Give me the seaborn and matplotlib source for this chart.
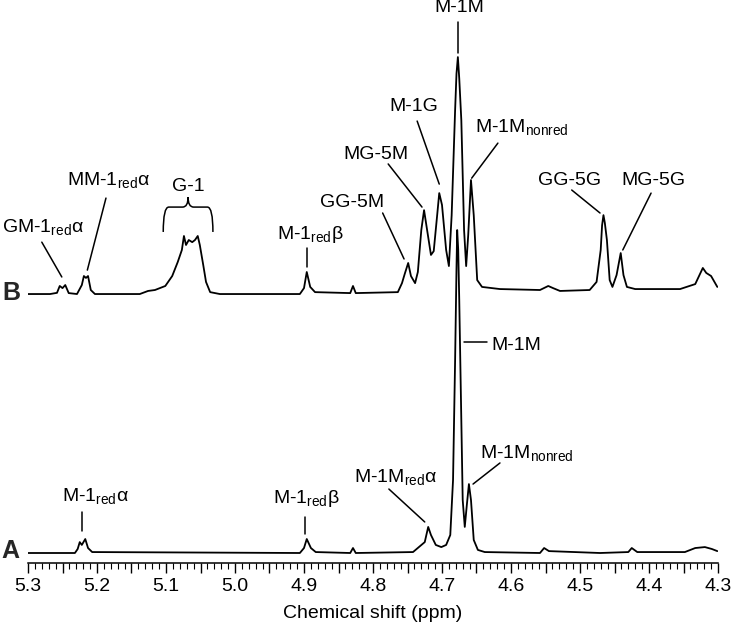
import pandas as pd
import seaborn as sns
import matplotlib.pyplot as plt
from matplotlib.path import Path
from matplotlib.patches import PathPatch
from matplotlib.ticker import MultipleLocator

# spectrum B (upper trace) - chemical shift (ppm) vs relative intensity
ppm_b = [5.300, 5.268, 5.258, 5.254, 5.250, 5.246, 5.241, 5.229, 5.222, 5.219,
         5.216, 5.213, 5.209, 5.203, 5.138, 5.126, 5.116, 5.101, 5.091, 5.083,
         5.077, 5.074, 5.071, 5.067, 5.062, 5.058, 5.054, 5.051, 5.046, 5.042,
         5.036, 5.022, 4.906, 4.900, 4.896, 4.891, 4.884, 4.833, 4.829, 4.825,
         4.764, 4.758, 4.754, 4.749, 4.745, 4.739, 4.735, 4.730, 4.726, 4.722,
         4.716, 4.712, 4.707, 4.704, 4.700, 4.694, 4.690, 4.686, 4.681, 4.679,
         4.677, 4.675, 4.672, 4.668, 4.665, 4.662, 4.658, 4.654, 4.649, 4.642,
         4.616, 4.558, 4.546, 4.539, 4.529, 4.486, 4.476, 4.470, 4.468, 4.466,
         4.464, 4.461, 4.457, 4.453, 4.447, 4.441, 4.437, 4.432, 4.420, 4.355,
         4.333, 4.322, 4.317, 4.310, 4.301]
int_b = [0.0, 0.0, 0.5, 3.4, 2.5, 3.8, 0.4, 0.0, 3.8, 7.6,
         6.8, 7.6, 1.7, 0.0, 0.0, 1.3, 1.7, 3.4, 7.6, 13.5,
         18.6, 24.5, 20.7, 22.8, 21.9, 22.8, 24.5, 20.7, 12.2, 5.1,
         0.8, 0.0, 0.0, 2.5, 9.3, 3.0, 0.8, 0.4, 3.4, 0.4,
         0.8, 4.6, 8.5, 13.1, 7.6, 4.6, 9.3, 27.0, 35.4, 27.8,
         16.5, 18.1, 33.3, 42.6, 37.6, 18.6, 11.8, 33.3, 77.6, 93.0,
         100.0, 91.0, 73.4, 27.0, 11.8, 24.9, 48.1, 33.3, 5.9, 3.0,
         2.1, 1.7, 3.4, 2.5, 1.3, 1.7, 5.1, 18.6, 29.0, 33.3,
         30.0, 22.8, 5.9, 3.0, 8.0, 17.3, 8.0, 3.0, 2.1, 2.1,
         4.2, 11.0, 8.9, 7.6, 3.0]

# spectrum A (lower trace)
ppm_a = [5.300, 5.232, 5.228, 5.225, 5.222, 5.217, 5.213, 5.207, 4.906, 4.900,
         4.896, 4.890, 4.883, 4.833, 4.829, 4.825, 4.742, 4.725, 4.720, 4.716,
         4.709, 4.701, 4.694, 4.688, 4.684, 4.681, 4.679, 4.678, 4.6765, 4.675,
         4.672, 4.670, 4.667, 4.664, 4.661, 4.658, 4.654, 4.648, 4.638, 4.558,
         4.552, 4.545, 4.471, 4.430, 4.425, 4.417, 4.348, 4.333, 4.319, 4.309,
         4.301]
int_a = [0.0, 0.0, 1.7, 4.6, 3.4, 5.9, 2.1, 0.4, 0.0, 2.1,
         5.9, 2.1, 0.4, 0.0, 2.1, 0.0, 0.4, 4.6, 11.0, 7.6,
         3.4, 2.5, 3.4, 7.6, 30.8, 81.4, 120.0, 136.3, 128.0, 106.8,
         56.1, 22.4, 11.0, 20.3, 29.1, 22.4, 5.5, 1.3, 0.4, 0.0,
         2.1, 0.8, 0.0, 0.4, 2.1, 0.4, 0.4, 2.1, 2.5, 1.7,
         0.8]

offset_b = 109.3

tick_pos = [5.3, 5.25, 5.2, 5.15, 5.1, 5.05, 5.0, 4.95, 4.9, 4.85, 4.8,
            4.75, 4.7, 4.65, 4.6, 4.55, 4.5, 4.45, 4.4, 4.35, 4.3]
tick_labels = ['5.3', '', '5.2', '', '5.1', '', '5.0', '', '4.9', '', '4.8',
               '', '4.7', '', '4.6', '', '4.5', '', '4.4', '', '4.3']

# peak labels: text, text x/y, alignment, leader line (x0, y0, x1, y1)
RED = r'$_{\mathregular{red}}$'
NONRED = r'$_{\mathregular{nonred}}$'
labels = [
    ('GM-1' + RED + 'α', 5.278, 135.0, 'center', (5.280, 131.2, 5.251, 116.5)),
    ('MM-1' + RED + 'α', 5.184, 154.9, 'center', (5.187, 149.8, 5.214, 119.4)),
    ('G-1', 5.068, 152.8, 'center', None),
    ('M-1' + RED + 'β', 4.891, 132.5, 'center', (4.896, 128.7, 4.896, 120.7)),
    ('GG-5M', 4.830, 146.0, 'center', (4.786, 143.5, 4.755, 124.1)),
    ('MG-5M', 4.796, 166.3, 'center', (4.778, 164.2, 4.729, 146.0)),
    ('M-1G', 4.741, 186.5, 'center', (4.736, 182.3, 4.704, 155.7)),
    ('M-1M', 4.675, 228.3, 'center', (4.677, 224.1, 4.677, 211.0)),
    ('M-1M' + NONRED, 4.652, 177.2, 'left', (4.619, 173.0, 4.657, 158.2)),
    ('GG-5G', 4.515, 155.3, 'center', (4.512, 153.2, 4.471, 143.5)),
    ('MG-5G', 4.393, 155.3, 'center', (4.397, 151.9, 4.438, 127.9)),
    ('M-1' + RED + 'α', 5.203, 21.5, 'center', (5.222, 17.3, 5.222, 9.3)),
    ('M-1' + RED + 'β', 4.896, 21.1, 'center', (4.899, 15.2, 4.899, 8.0)),
    ('M-1M' + RED + 'α', 4.767, 29.5, 'center', (4.777, 27.0, 4.725, 13.1)),
    ('M-1M', 4.628, 85.7, 'left', (4.668, 89.0, 4.635, 89.0)),
    ('M-1M' + NONRED, 4.645, 39.7, 'left', (4.616, 38.0, 4.655, 29.1)),
]

sns.set_theme(style='white')
plt.rcParams['font.family'] = ['Liberation Sans', 'DejaVu Sans']
plt.rcParams['mathtext.fontset'] = 'custom'
plt.rcParams['mathtext.rm'] = 'Liberation Sans'

df = pd.concat([
    pd.DataFrame({'ppm': ppm_a, 'y': int_a, 'spectrum': 'A'}),
    pd.DataFrame({'ppm': ppm_b, 'y': [v + offset_b for v in int_b], 'spectrum': 'B'}),
])

fig = plt.figure(figsize=(7.32, 6.27), dpi=100)
ax = fig.add_axes([28 / 732, 64 / 627, 690 / 732, 563 / 627])
sns.lineplot(data=df, x='ppm', y='y', hue='spectrum', units='spectrum',
             palette={'A': 'black', 'B': 'black'}, estimator=None, sort=False,
             legend=False, lw=1.3, ax=ax)

ax.set_xlim(5.3, 4.3)
ax.set_ylim(-4.22, 233.4)
sns.despine(ax=ax, left=True, top=True, right=True)
ax.spines['bottom'].set_linewidth(1.1)
ax.spines['bottom'].set_color('black')
ax.set_yticks([])
ax.set_ylabel('')
ax.set_xticks(tick_pos, tick_labels)
ax.xaxis.set_minor_locator(MultipleLocator(0.01))
ax.tick_params(axis='x', which='major', bottom=True, direction='out', length=7,
               width=1.0, color='black', labelsize=14, pad=4, labelcolor='black')
ax.tick_params(axis='x', which='minor', bottom=True, direction='out', length=4,
               width=0.8, color='black')
ax.set_xlabel('Chemical shift (ppm)', fontsize=14, labelpad=7, color='black')

for text, tx, ty, ha, line in labels:
    ax.text(tx, ty, text, ha=ha, va='baseline', fontsize=14, color='black')
    if line is not None:
        ax.plot([line[0], line[2]], [line[1], line[3]], color='black', lw=1.1)

# brace above the G-1 multiplet
x0, x1, xc = 5.104, 5.032, 5.068
yb, yt, ytip, dx = 135.5, 146.0, 150.2, 0.008
verts = [(x0, yb), (x0, yt), (x0 - dx, yt), (xc + dx, yt), (xc, yt), (xc, ytip),
         (xc, yt), (xc - dx, yt), (x1 + dx, yt), (x1, yt), (x1, yb)]
codes = [Path.MOVETO, Path.CURVE3, Path.CURVE3, Path.LINETO, Path.CURVE3, Path.CURVE3,
         Path.CURVE3, Path.CURVE3, Path.LINETO, Path.CURVE3, Path.CURVE3]
ax.add_patch(PathPatch(Path(verts, codes), fill=False, lw=1.1, color='black'))

ax.text(5.337, 106.8, 'B', ha='left', va='baseline', fontsize=18,
        fontweight='bold', clip_on=False)
ax.text(5.338, -2.1, 'A', ha='left', va='baseline', fontsize=18,
        fontweight='bold', clip_on=False)

fig.savefig('out.png', dpi=100)
